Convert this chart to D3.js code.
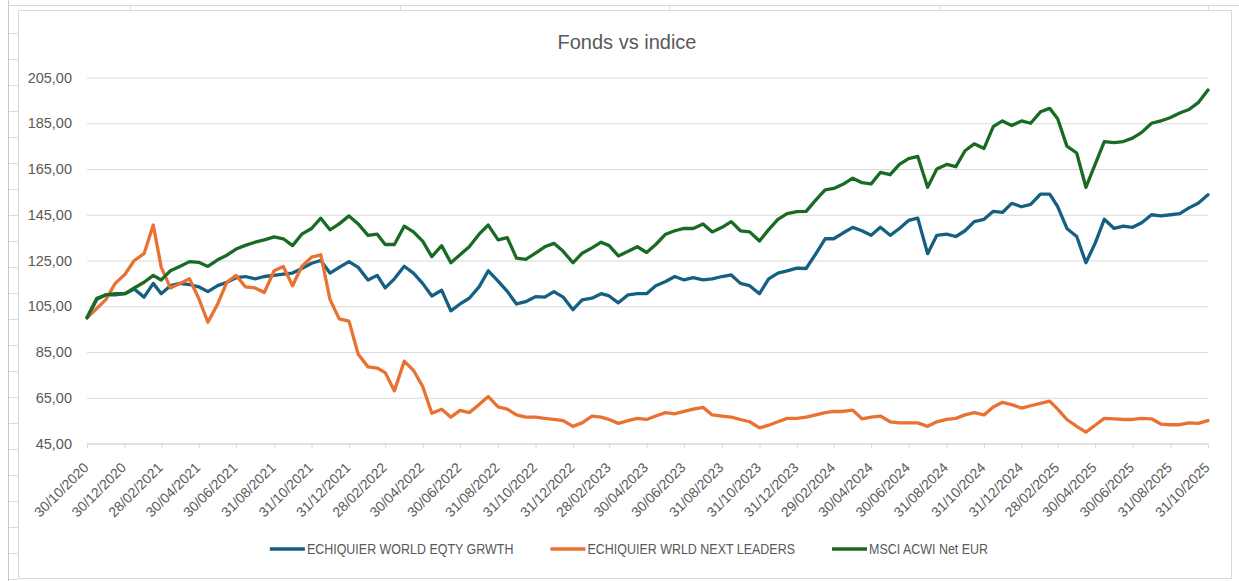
<!DOCTYPE html>
<html><head><meta charset="utf-8">
<script src="https://cdn.jsdelivr.net/npm/d3@7"></script>
<style>
body{margin:0;background:#fff;}
svg{display:block;font-family:"Liberation Sans",Arial,sans-serif;}
</style>
</head><body>
<svg id="chart" width="1239" height="581"></svg>
<script>
// ---------- data ----------
const chartTitle = "Fonds vs indice";
const seriesNames = ["ECHIQUIER WORLD EQTY GRWTH", "ECHIQUIER WRLD NEXT LEADERS", "MSCI ACWI Net EUR"];
const seriesColors = ["#156082", "#E97132", "#196B24"];
const yTickValues = [45, 65, 85, 105, 125, 145, 165, 185, 205];
const xTickLabels = ["30/10/2020","30/12/2020","28/02/2021","30/04/2021","30/06/2021","31/08/2021","31/10/2021","31/12/2021",
  "28/02/2022","30/04/2022","30/06/2022","31/08/2022","31/10/2022","31/12/2022","28/02/2023","30/04/2023","30/06/2023",
  "31/08/2023","31/10/2023","31/12/2023","29/02/2024","30/04/2024","30/06/2024","31/08/2024","31/10/2024","31/12/2024",
  "28/02/2025","30/04/2025","30/06/2025","31/08/2025","31/10/2025"];
const startDate = "30/10/2020";
const endMonths = 60; // semi-monthly readings: 15th and month end, Nov 2020 .. Oct 2025

const worldGrowth = [
  100, 108, 110, 110, 110.5, 112.5, 109, 115, 110.5, 114,
  115, 114.5, 113.5, 111.4, 114, 115.5, 117.5, 118, 117, 118,
  118.5, 119, 119.5, 121.5, 123.8, 125, 119.5, 122, 124.5, 122,
  116.5, 118.5, 113, 117, 122.5, 119.5, 115, 109.5, 112, 103,
  106, 108.5, 113.5, 120.5, 116, 111.5, 106, 107, 109.2, 109,
  111.4, 109, 103.5, 107.8, 108.5, 110.5, 109.5, 106.5, 110, 110.5,
  110.5, 114, 115.8, 118, 116.5, 117.5, 116.5, 117, 118, 118.7,
  115, 114, 110.5, 117, 119.5, 120.5, 121.7, 121.5, 128, 134.5,
  134.5, 137, 139.5, 138, 136, 139.5, 136, 139, 142.5, 143.5,
  128, 136, 136.5, 135.5, 138, 142, 143, 146.5, 146, 150,
  148.5, 149.5, 154, 154, 148.6, 139, 135.5, 124, 132.5, 143,
  139, 140, 139.5, 141.5, 145, 144.5, 145, 145.5, 148, 150,
  153.7];
const nextLeaders = [
  100, 104, 108, 115, 119, 125, 128, 140.5, 122, 113,
  115, 117, 108.5, 98, 106, 115.5, 118.5, 113.5, 113, 111,
  120.5, 122.4, 114, 122.4, 126.5, 127.5, 108, 99.5, 98.5, 84,
  78.5, 78, 76, 68, 81, 77, 70, 58.2, 60, 56.5,
  59.5, 58.5, 62, 65.5, 61, 60, 57.5, 56.5, 56.5, 56,
  55.5, 55, 52.5, 54, 57, 56.5, 55.5, 53.8, 55, 56,
  55.5, 57, 58.5, 58, 59, 60, 60.8, 57.5, 57, 56.5,
  55.5, 54.5, 51.8, 53, 54.5, 56, 56, 56.5, 57.5, 58.5,
  59, 59, 59.6, 55.8, 56.5, 57, 54.5, 54, 54, 54,
  52.5, 54.5, 55.5, 56, 57.5, 58.5, 57.5, 61, 63, 62,
  60.5, 61.5, 62.5, 63.5, 60, 55.5, 52.5, 50, 53, 56,
  55.8, 55.5, 55.5, 56, 55.8, 53.5, 53.2, 53.2, 54, 53.8,
  55];
const msciAcwi = [
  100, 108.5, 110, 110.5, 110.5, 113, 115.5, 118.5, 116.5, 120.5,
  122.5, 124.5, 124.2, 122.4, 125.3, 127.3, 130, 131.6, 133, 134,
  135.3, 134.5, 131.5, 136.5, 139, 143.5, 138.4, 141, 144.5, 141,
  136, 136.5, 132, 132, 140, 137.5, 133.5, 126.7, 131.5, 124,
  127.5, 131, 136.5, 140.5, 134, 135, 126, 125.5, 128.2, 131,
  132.5, 129, 124, 128.2, 130.5, 133, 131.5, 127, 129, 131,
  128.5, 132, 136.5, 138, 139, 139, 141, 137.5, 139.5, 142,
  138, 137.5, 133.5, 138.5, 143, 145.5, 146.4, 146.5, 151.5, 155.9,
  156.5, 158.3, 161, 159, 158.5, 163.5, 162.5, 167, 169.5, 170.5,
  157, 165, 167, 166, 173, 176, 174, 183.5, 186, 184,
  186, 185, 190, 191.5, 187, 175, 172, 157, 167, 177,
  176.5, 177, 178.5, 181, 185, 186, 187.5, 189.5, 191, 194,
  199.5];

// ---------- build ----------
const parse = d3.timeParse("%d/%m/%Y");
const dates = [parse(startDate)];
for (let m = 1; m <= endMonths; m++) {
  const first = new Date(2020, 9 + m, 1);
  dates.push(new Date(first.getFullYear(), first.getMonth(), 15));
  dates.push(new Date(first.getFullYear(), first.getMonth() + 1, 0));
}
const seriesValues = [worldGrowth, nextLeaders, msciAcwi];
const series = seriesNames.map((name, i) => ({
  name, color: seriesColors[i],
  points: seriesValues[i].map((v, k) => ({ date: dates[k], value: v }))
}));
const tickDates = xTickLabels.map(parse);

const svg = d3.select("#chart");
const W = 1239, H = 581;
const margin = { left: 87, right: W - 1208, top: 77.5, bottom: H - 443.5 };
const textColor = "#595959";
const gridColor = "#d9d9d9";
const narrow = 0.86; // horizontal condensing to mimic the narrow chart font

// spreadsheet background
const bg = svg.append("g");
bg.append("line").attr("x1", 8.5).attr("x2", 8.5).attr("y1", 0).attr("y2", H).attr("stroke", "#c8c8c8");
bg.append("line").attr("x1", 8).attr("x2", W).attr("y1", 5.5).attr("y2", 5.5).attr("stroke", "#d6d6d6");
d3.range(33, H, 26).forEach(yy => bg.append("line").attr("x1", 9).attr("x2", 18).attr("y1", yy + 0.5).attr("y2", yy + 0.5).attr("stroke", "#dcdcdc"));
[130, 400, 669, 939, 1208].forEach(xx => bg.append("line").attr("x1", xx + 0.5).attr("x2", xx + 0.5).attr("y1", 5).attr("y2", 10).attr("stroke", "#dcdcdc"));
// chart area
svg.append("rect").attr("x", 18.5).attr("y", 10.5).attr("width", 1213).attr("height", 568)
  .attr("fill", "#fff").attr("stroke", "#d9d9d9");

const x = d3.scaleTime().domain([parse("30/10/2020"), parse("31/10/2025")]).range([margin.left, W - margin.right]);
const y = d3.scaleLinear().domain([45, 205]).range([H - margin.bottom, margin.top]);

// gridlines
svg.append("g").attr("transform", `translate(${margin.left},0)`)
  .call(d3.axisLeft(y).tickValues(yTickValues).tickSize(-(W - margin.left - margin.right)).tickFormat(""))
  .call(g => g.select(".domain").remove())
  .call(g => g.selectAll("line").attr("stroke", gridColor).attr("stroke-width", 1));

// y labels
svg.append("g").attr("transform", `translate(${margin.left},0)`)
  .call(d3.axisLeft(y).tickValues(yTickValues).tickSize(0).tickPadding(15)
    .tickFormat(d => d.toFixed(2).replace(".", ",")))
  .call(g => g.select(".domain").remove())
  .call(g => g.selectAll("text").attr("fill", textColor).style("font-size", "14.5px"));

// x axis
const xAxisG = svg.append("g").attr("transform", `translate(0,${y(45)})`)
  .call(d3.axisBottom(x).tickValues(tickDates).tickSize(5).tickFormat(d3.timeFormat("%d/%m/%Y")));
xAxisG.select(".domain").attr("stroke", gridColor).attr("d", `M${margin.left},0.5H${W - margin.right}`);
xAxisG.selectAll(".tick line").attr("stroke", gridColor);
xAxisG.selectAll(".tick text")
  .attr("fill", textColor).style("font-size", "14px")
  .attr("text-anchor", "end").attr("x", 0).attr("y", 0).attr("dy", 0)
  .attr("transform", "translate(2,25) rotate(-45)");

// lines
const line = d3.line().x(d => x(d.date)).y(d => y(d.value)).curve(d3.curveLinear);
svg.append("g").selectAll("path").data(series).join("path")
  .attr("d", d => line(d.points))
  .attr("fill", "none").attr("stroke", d => d.color).attr("stroke-width", 3.3)
  .attr("stroke-linejoin", "round").attr("stroke-linecap", "round");

// title
svg.append("text").attr("x", 627).attr("y", 49).attr("text-anchor", "middle")
  .attr("fill", textColor).style("font-size", "20px").text(chartTitle);

// legend
const legend = svg.append("g");
const items = legend.selectAll("g").data(series).join("g");
items.append("line").attr("x1", 0).attr("x2", 35).attr("y1", 0).attr("y2", 0)
  .attr("stroke", d => d.color).attr("stroke-width", 3.3);
items.append("text").attr("transform", `translate(37,5) scale(${narrow},1)`).attr("fill", textColor)
  .style("font-size", "14.5px").text(d => d.name);
let pos = 0;
const offsets = [];
items.each(function () {
  offsets.push(pos);
  pos += 37 + this.querySelector("text").getComputedTextLength() * narrow + 37;
});
const totalW = pos - 37;
const legendStart = 629 - totalW / 2;
items.attr("transform", (d, i) => `translate(${legendStart + offsets[i]},549)`);
</script>
</body></html>
